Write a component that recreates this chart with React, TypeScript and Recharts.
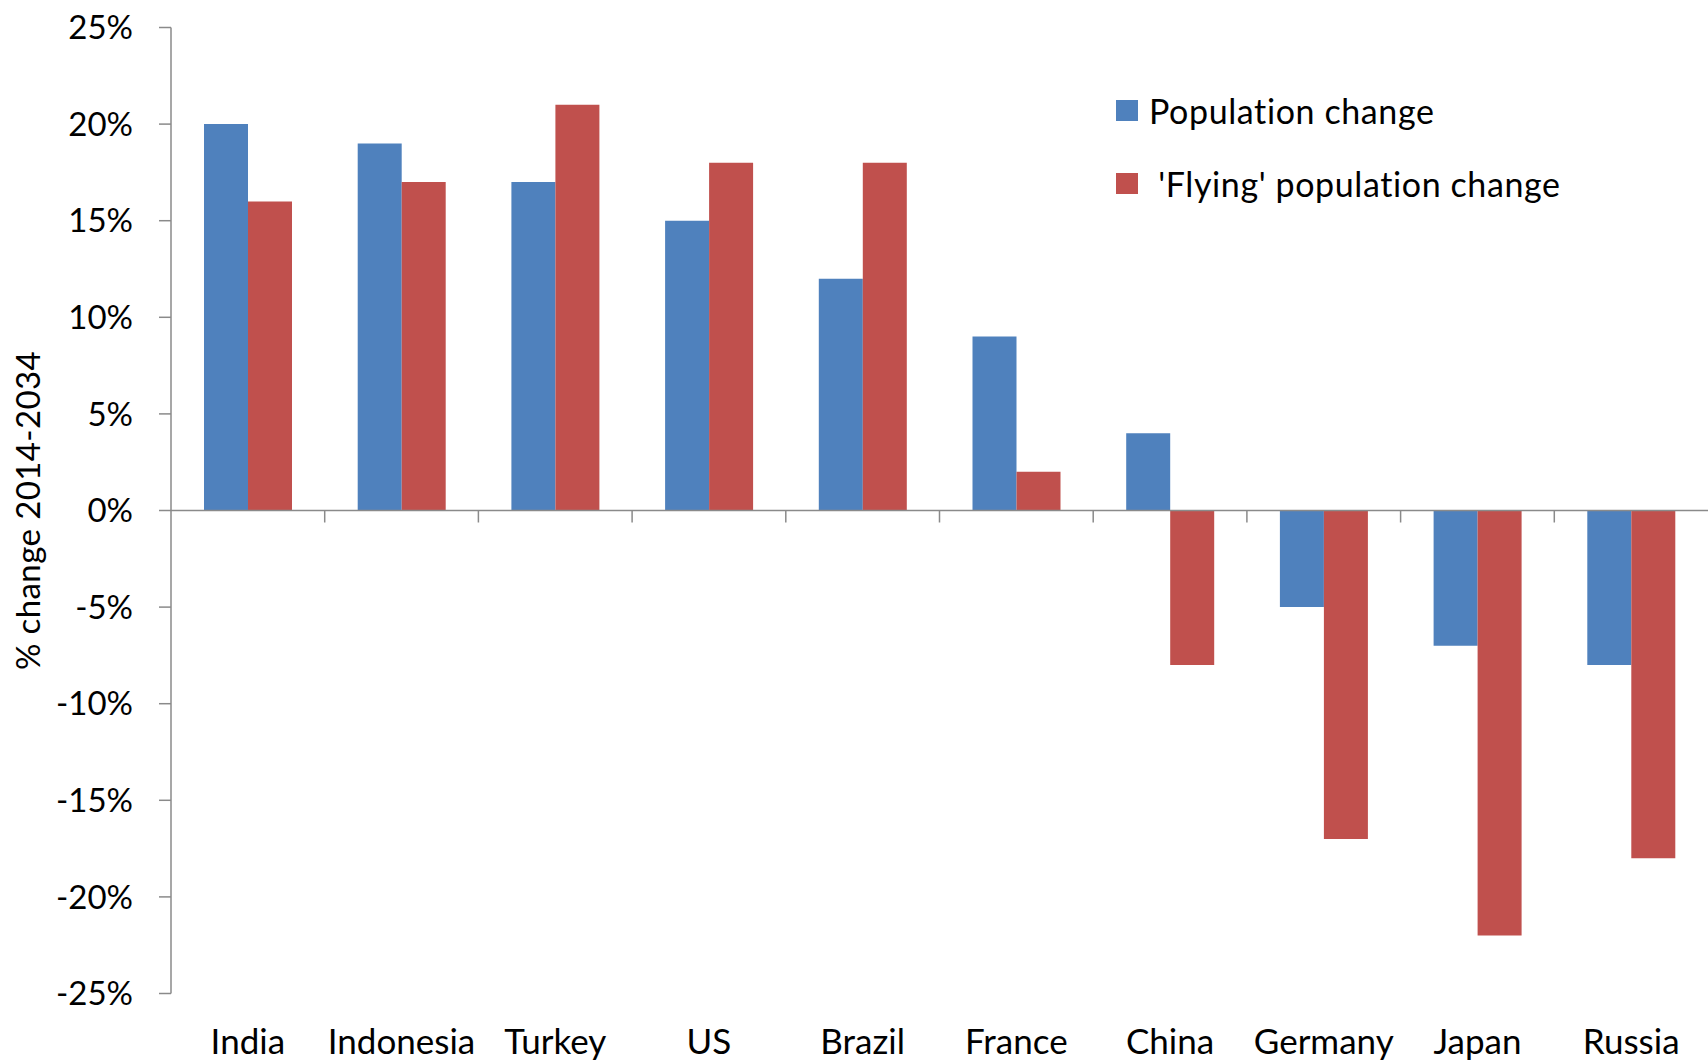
import React from "react";
import { BarChart, Bar, XAxis, YAxis, ReferenceLine, Label } from "recharts";

const categories = [
  "India", "Indonesia", "Turkey", "US", "Brazil",
  "France", "China", "Germany", "Japan", "Russia",
];
const populationChange = [20, 19, 17, 15, 12, 9, 4, -5, -7, -8];
const flyingChange = [16, 17, 21, 18, 18, 2, -8, -17, -22, -18];
const yTicks = [-25, -20, -15, -10, -5, 0, 5, 10, 15, 20, 25];
const seriesNames = ["Population change", " 'Flying' population change"];
const seriesColors = ["#4F81BD", "#C0504D"];
const yAxisTitle = "% change 2014-2034";

const FONT = "Lato, 'Open Sans', sans-serif";
const AXIS_GREY = "#8a8a8a";

const data = categories.map((name, i) => ({
  name,
  pop: populationChange[i],
  flying: flyingChange[i],
}));

// zero line with the category ticks hanging below it
function ZeroAxis(props: any) {
  const { x1, x2, y1 } = props;
  const n = categories.length;
  const step = (x2 - x1) / n;
  return (
    <g>
      <line x1={x1} x2={x2} y1={y1} y2={y1} stroke={AXIS_GREY} strokeWidth={1.5} />
      {categories.slice(1).map((_, i) => {
        const x = x1 + step * (i + 1);
        return <line key={i} x1={x} x2={x} y1={y1} y2={y1 + 12} stroke={AXIS_GREY} strokeWidth={1.5} />;
      })}
    </g>
  );
}

function YTitle(props: any) {
  const { viewBox } = props;
  const cx = viewBox.x + 40;
  const cy = viewBox.y + viewBox.height / 2;
  return (
    <text
      x={cx}
      y={cy}
      transform={`rotate(-90, ${cx}, ${cy})`}
      textAnchor="middle"
      fontFamily={FONT}
      fontSize={33}
      letterSpacing={0.4}
      fill="#000"
    >
      {yAxisTitle}
    </text>
  );
}

function LegendBox() {
  return (
    <div
      style={{
        position: "absolute",
        left: 1116,
        top: 74,
        fontFamily: FONT,
        fontSize: 34,
        letterSpacing: 0.6,
        color: "#000",
      }}
    >
      {seriesNames.map((n, i) => (
        <div key={i} style={{ display: "flex", alignItems: "center", height: 73 }}>
          <span
            style={{
              width: 22,
              height: 21,
              background: seriesColors[i],
              display: "inline-block",
              marginRight: 11,
            }}
          />
          <span style={{ whiteSpace: "pre" }}>{n}</span>
        </div>
      ))}
    </div>
  );
}

export default function App() {
  return (
    <div style={{ position: "absolute", left: 0, top: 0, width: 1708, height: 1061, background: "#fff" }}>
      <BarChart
        width={1708}
        height={1061}
        data={data}
        margin={{ top: 27.5, right: 0, bottom: 0, left: 0 }}
        barGap={0}
        barSize={44}
      >
        <XAxis
          dataKey="name"
          height={67.5}
          axisLine={false}
          tickLine={false}
          tickSize={0}
          tickMargin={36}
          interval={0}
          tick={{ fill: "#000", fontSize: 35, fontFamily: FONT }}
        />
        <YAxis
          width={171}
          domain={[-25, 25]}
          ticks={yTicks}
          interval={0}
          tickFormatter={(v) => `${v}%`}
          axisLine={{ stroke: AXIS_GREY, strokeWidth: 1.5 }}
          tickLine={{ stroke: AXIS_GREY, strokeWidth: 1.5 }}
          tickSize={12}
          tickMargin={26}
          tick={{ fill: "#000", fontSize: 33, fontFamily: FONT }}
        >
          <Label content={YTitle} />
        </YAxis>
        <Bar dataKey="pop" name={seriesNames[0]} fill={seriesColors[0]} isAnimationActive={false} />
        <Bar dataKey="flying" name={seriesNames[1]} fill={seriesColors[1]} isAnimationActive={false} />
        <ReferenceLine y={0} shape={ZeroAxis} />
      </BarChart>
      <LegendBox />
    </div>
  );
}
